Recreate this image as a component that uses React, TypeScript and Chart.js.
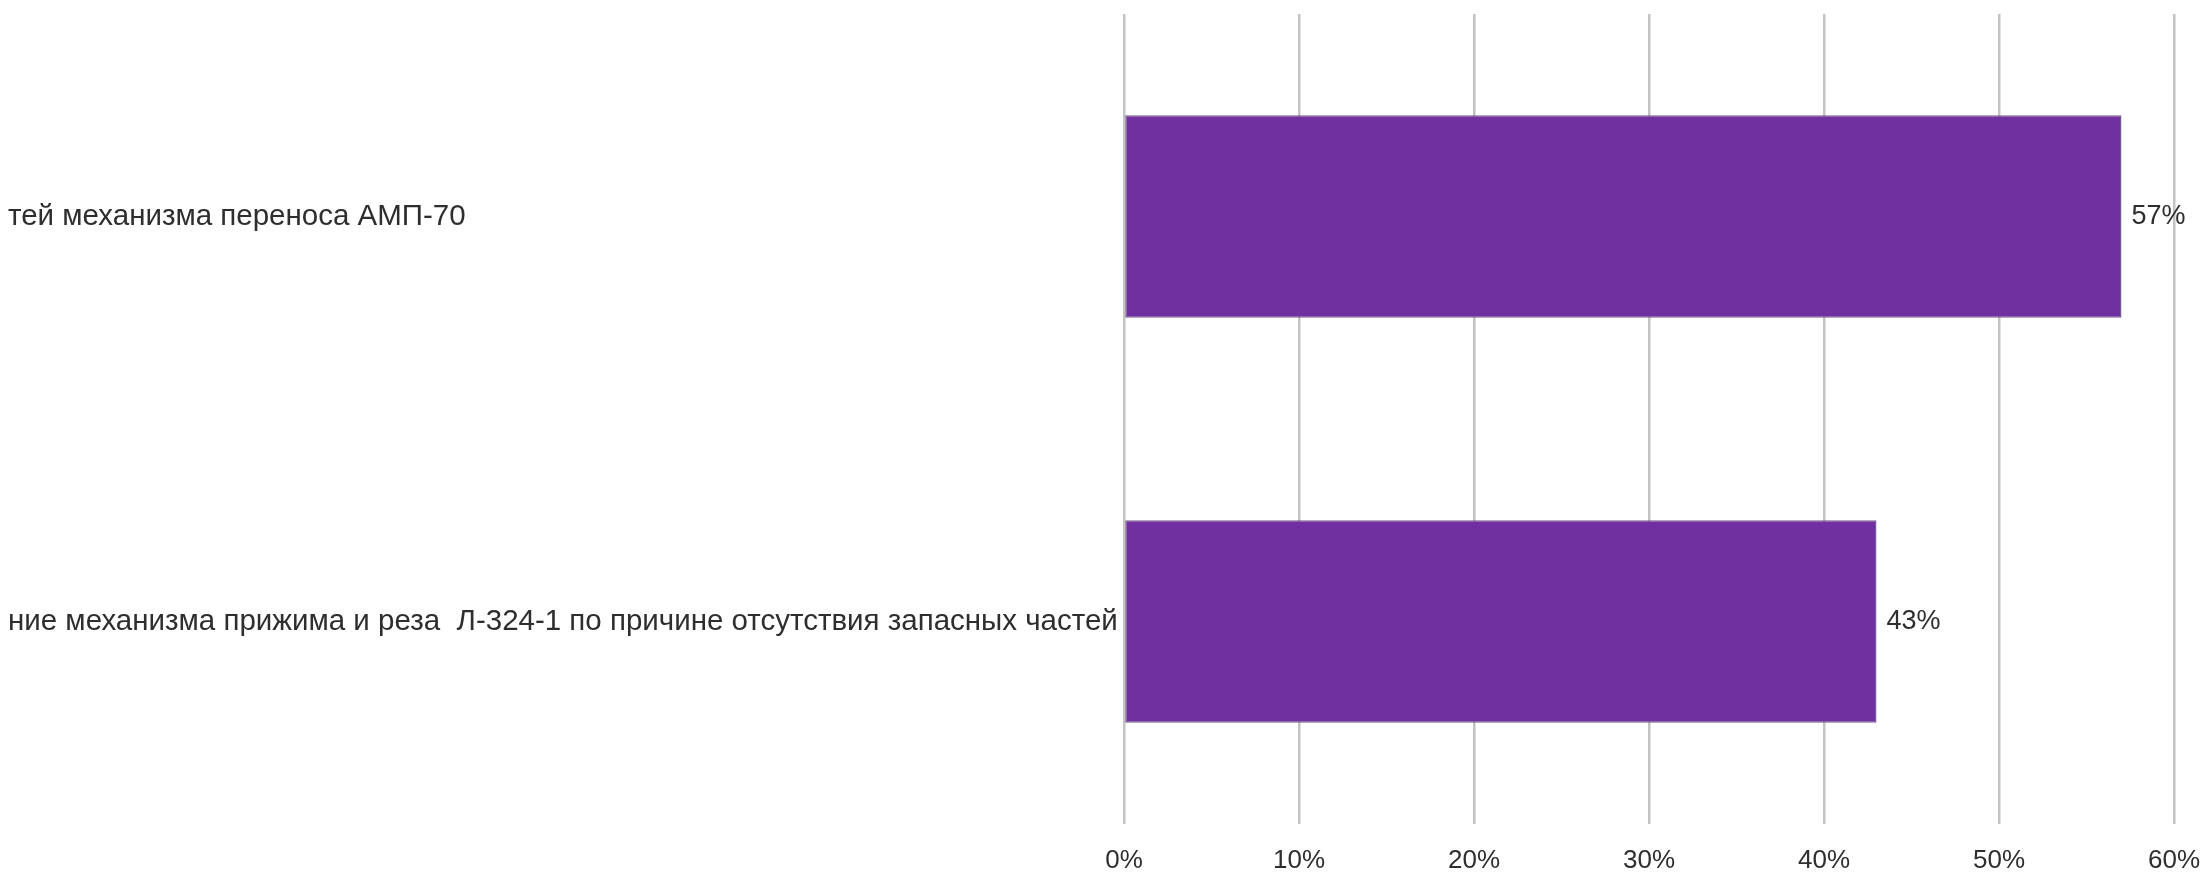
import React, { useEffect, useRef } from "react";
import { Chart, registerables } from "chart.js";

Chart.register(...registerables);

const categories: string[] = [
  "тей механизма переноса АМП-70",
  "ние механизма прижима и реза  Л-324-1 по причине отсутствия запасных частей",
];
const values: number[] = [57, 43];
const xTicks: number[] = [0, 10, 20, 30, 40, 50, 60];

const FONT = "'Liberation Sans', Arial, sans-serif";
const TEXT = "#2e2e2e";

const dataLabels = {
  id: "dataLabels",
  afterDatasetsDraw(chart: any) {
    const ctx = chart.ctx;
    const meta = chart.getDatasetMeta(0);
    ctx.save();
    ctx.font = `27px ${FONT}`;
    ctx.fillStyle = TEXT;
    ctx.textAlign = "left";
    ctx.textBaseline = "middle";
    meta.data.forEach((el: any, i: number) => {
      ctx.fillText(values[i] + "%", el.x + 10, el.y);
    });
    ctx.restore();
  },
};

export default function App() {
  const ref = useRef<HTMLCanvasElement | null>(null);
  useEffect(() => {
    if (!ref.current) return;
    const chart = new Chart(ref.current, {
      type: "bar",
      data: {
        labels: categories,
        datasets: [
          {
            data: values,
            backgroundColor: "#7030A0",
            borderColor: "#7a5a96",
            borderWidth: 1.5,
            borderSkipped: false,
            categoryPercentage: 1,
            barPercentage: 0.5,
          },
        ],
      },
      options: {
        indexAxis: "y",
        animation: false,
        responsive: true,
        maintainAspectRatio: false,
        layout: { padding: { top: 6, right: 26, left: 0, bottom: 0 } },
        plugins: {
          legend: { display: false },
          tooltip: { enabled: false },
        },
        scales: {
          x: {
            min: 0,
            max: 60,
            afterBuildTicks: (scale: any) => {
              scale.ticks = xTicks.map((v) => ({ value: v }));
            },
            afterFit: (scale: any) => {
              scale.height = 52;
              scale.paddingLeft = 0;
              scale.paddingRight = 0;
            },
            grid: {
              color: "#c3c3c3",
              lineWidth: 2.5,
              drawTicks: false,
            },
            border: { display: false },
            ticks: {
              padding: 21,
              color: TEXT,
              font: { family: FONT, size: 26 },
              callback: (v: any) => v + "%",
            },
          },
          y: {
            afterFit: (scale: any) => {
              scale.width = 1116;
              scale.paddingTop = 0;
              scale.paddingBottom = 0;
            },
            grid: { display: false, drawTicks: false },
            border: { display: false },
            ticks: {
              crossAlign: "far",
              padding: 0,
              color: TEXT,
              font: { family: FONT, size: 29.5 },
            },
          },
        },
      },
      plugins: [dataLabels],
    });
    return () => chart.destroy();
  }, []);
  return (
    <div style={{ position: "relative", width: 2192, height: 868 }}>
      <canvas ref={ref} />
    </div>
  );
}
